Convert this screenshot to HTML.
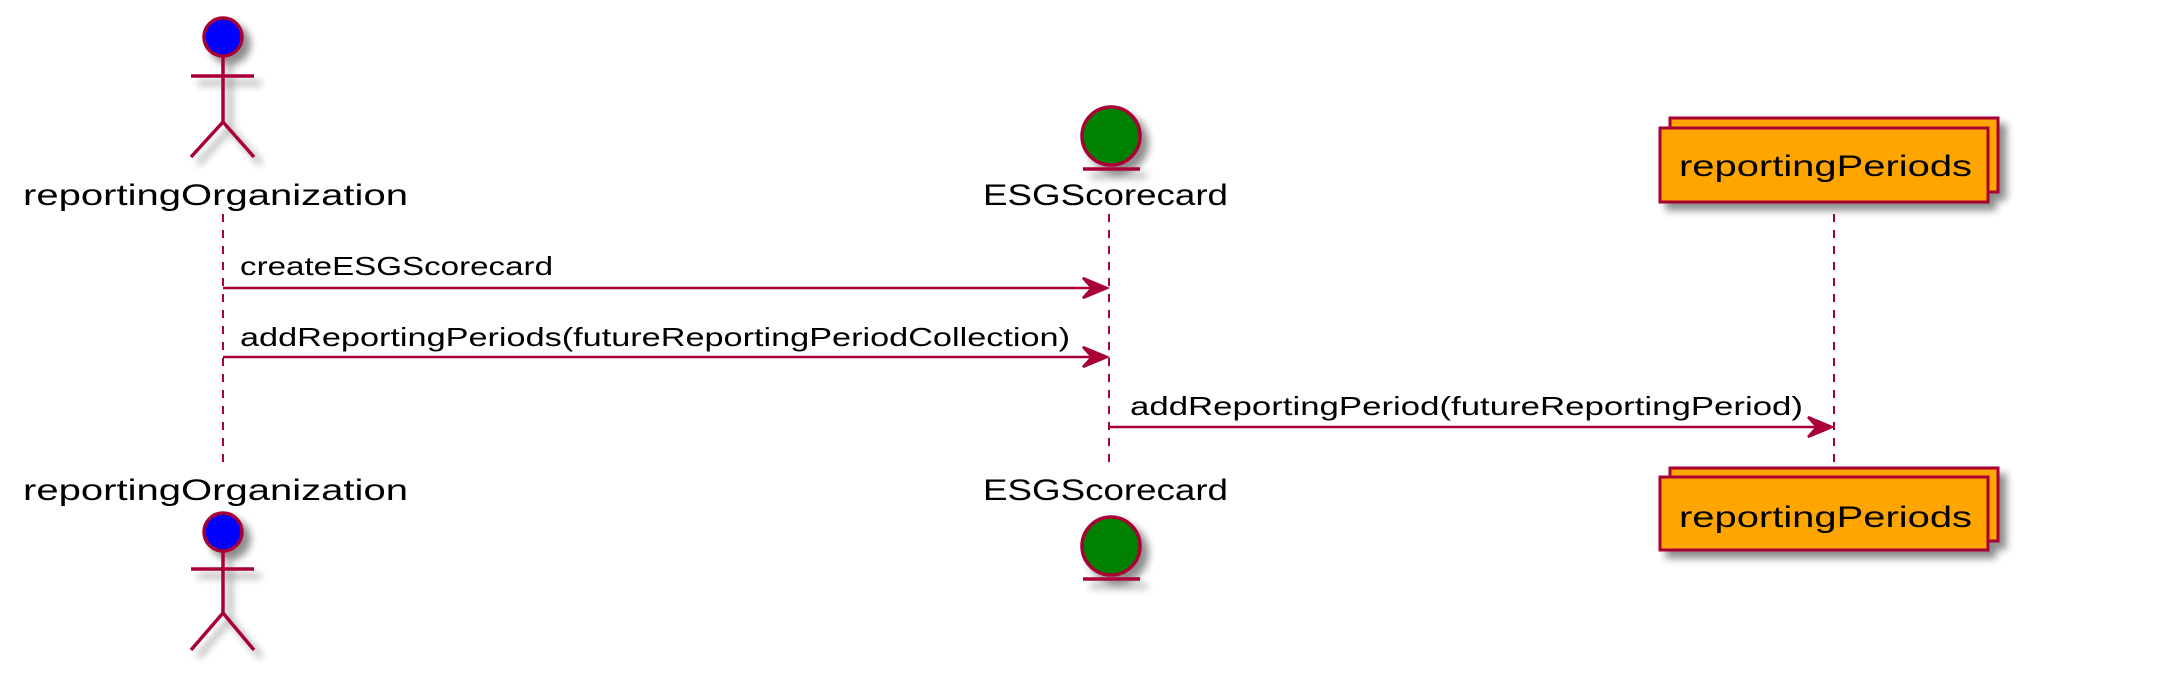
<!DOCTYPE html>
<html><head><meta charset="utf-8"><style>html,body{margin:0;padding:0;background:#fff}svg{display:block}</style></head>
<body>
<svg width="2184" height="682" viewBox="0 0 2184 682" xmlns="http://www.w3.org/2000/svg" font-family="'Liberation Sans', sans-serif">
<defs>
<filter id="sh" x="-30%" y="-30%" width="180%" height="180%"><feGaussianBlur in="SourceAlpha" stdDeviation="4"/><feOffset dx="7" dy="7"/><feComponentTransfer><feFuncA type="linear" slope="0.45"/></feComponentTransfer><feMerge><feMergeNode/><feMergeNode in="SourceGraphic"/></feMerge></filter>
</defs>
<g stroke="#A80036" stroke-width="2" stroke-dasharray="8,8" fill="none">
<line x1="223" y1="214" x2="223" y2="464"/>
<line x1="1109" y1="214" x2="1109" y2="464"/>
<line x1="1834" y1="214" x2="1834" y2="464"/>
</g>
<g stroke="#A80036" stroke-width="3.5" fill="none" filter="url(#sh)">
<ellipse cx="223" cy="37" rx="19" ry="19" fill="#0000FF"/>
<line x1="223" y1="56" x2="223" y2="122"/>
<line x1="191" y1="76" x2="254" y2="76"/>
<line x1="223" y1="122" x2="191" y2="157"/>
<line x1="223" y1="122" x2="254" y2="157"/>
</g>
<g stroke="#A80036" stroke-width="3.5" fill="none" filter="url(#sh)">
<ellipse cx="223" cy="532" rx="19" ry="19" fill="#0000FF"/>
<line x1="223" y1="551" x2="223" y2="613"/>
<line x1="191" y1="569" x2="254" y2="569"/>
<line x1="223" y1="613" x2="191" y2="650"/>
<line x1="223" y1="613" x2="254" y2="650"/>
</g>
<g stroke="#A80036" stroke-width="3.5" filter="url(#sh)">
<ellipse cx="1111" cy="136" rx="29" ry="29" fill="#008000"/>
<line x1="1083" y1="169" x2="1140" y2="169"/>
</g>
<g stroke="#A80036" stroke-width="3.5" filter="url(#sh)">
<ellipse cx="1111" cy="546" rx="29" ry="29" fill="#008000"/>
<line x1="1083" y1="579" x2="1140" y2="579"/>
</g>
<g stroke="#A80036" stroke-width="3" fill="#FFA500" filter="url(#sh)">
<rect x="1670" y="118" width="328" height="74"/>
<rect x="1660" y="128" width="328" height="74"/>
</g>
<g stroke="#A80036" stroke-width="3" fill="#FFA500" filter="url(#sh)">
<rect x="1670" y="468" width="328" height="73"/>
<rect x="1660" y="477" width="328" height="73"/>
</g>
<g font-size="30" fill="#000">
<text x="23" y="205" textLength="385" lengthAdjust="spacingAndGlyphs">reportingOrganization</text>
<text x="23" y="500" textLength="385" lengthAdjust="spacingAndGlyphs">reportingOrganization</text>
<text x="983" y="205" textLength="245" lengthAdjust="spacingAndGlyphs">ESGScorecard</text>
<text x="983" y="500" textLength="245" lengthAdjust="spacingAndGlyphs">ESGScorecard</text>
<text x="1679" y="176" textLength="293" lengthAdjust="spacingAndGlyphs">reportingPeriods</text>
<text x="1679" y="527" textLength="293" lengthAdjust="spacingAndGlyphs">reportingPeriods</text>
</g>
<g font-size="26" fill="#000">
<text x="240" y="275" textLength="313" lengthAdjust="spacingAndGlyphs">createESGScorecard</text>
<text x="240" y="346" textLength="830" lengthAdjust="spacingAndGlyphs">addReportingPeriods(futureReportingPeriodCollection)</text>
<text x="1130" y="415" textLength="673" lengthAdjust="spacingAndGlyphs">addReportingPeriod(futureReportingPeriod)</text>
</g>
<g stroke="#A80036" stroke-width="2.5" fill="#A80036">
<line x1="223" y1="288" x2="1105" y2="288"/>
<polygon points="1107,288 1083,278 1092,288 1083,298"/>
<line x1="223" y1="357" x2="1105" y2="357"/>
<polygon points="1107,357 1083,347 1092,357 1083,367"/>
<line x1="1110" y1="427" x2="1830" y2="427"/>
<polygon points="1832,427 1808,417 1817,427 1808,437"/>
</g>
</svg>
</body></html>
